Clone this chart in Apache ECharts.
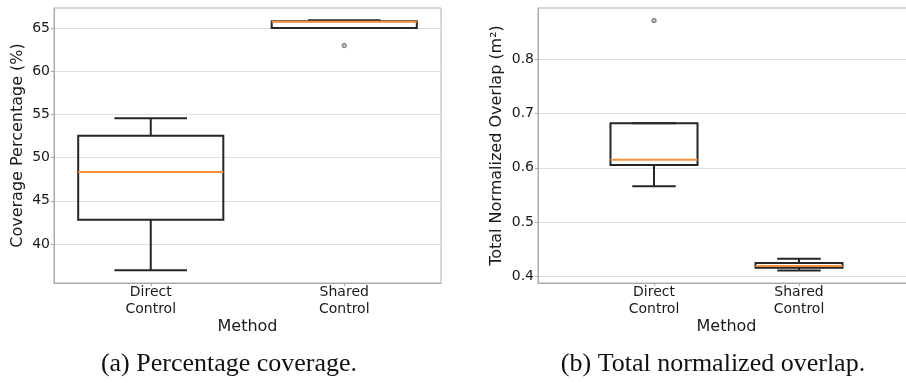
<!DOCTYPE html>
<html>
<head>
<meta charset="utf-8">
<script src="https://cdn.jsdelivr.net/npm/echarts@6/dist/echarts.min.js"></script>
<style>
  html, body { margin: 0; padding: 0; background: #ffffff; }
  #chart { width: 906px; height: 383px; }
</style>
</head>
<body>
<div id="chart"></div>
<script>
// Method names on the x axis (positions 1 and 2)
const categories = ['Direct\nControl', 'Shared\nControl'];

// Five-number summaries: [lower whisker, Q1, median, Q3, upper whisker]
const coverageDirect = [36.96, 42.8, 48.35, 52.54, 54.55];
const coverageShared = [64.98, 64.98, 65.72, 65.76, 65.89];
const coverageSharedOutliers = [62.96];

const overlapDirect = [0.566, 0.605, 0.615, 0.682, 0.682];
const overlapShared = [0.411, 0.416, 0.4195, 0.425, 0.4325];
const overlapDirectOutliers = [0.871];

// Tick labels
const coverageTicks = [40, 45, 50, 55, 60, 65];
const overlapTicks = [0.4, 0.5, 0.6, 0.7, 0.8];

const FONT = 'DejaVu Sans';
const BOX_COLOR = '#262626';
const MEDIAN_COLOR = '#f5923a';
const OUTLIER_COLOR = '#777777';

function boxRows(summaries) {
  return summaries.map((s, i) => [i + 1].concat(s));
}
function outlierRows(pos, values) {
  return values.map(v => [pos, v]);
}

// Draws an unfilled box with whiskers, caps and an orange median line.
function makeBoxRenderer(boxWidth) {
  return function (params, api) {
    const x = api.value(0);
    const low = api.coord([x, api.value(1)]);
    const q1 = api.coord([x, api.value(2)]);
    const med = api.coord([x, api.value(3)]);
    const q3 = api.coord([x, api.value(4)]);
    const high = api.coord([x, api.value(5)]);
    const half = api.size([boxWidth, 0])[0] / 2;
    const cap = half / 2;
    const cx = low[0];
    const line = (x1, y1, x2, y2, color) => ({
      type: 'line',
      shape: { x1, y1, x2, y2 },
      style: { stroke: color, lineWidth: 2, fill: null }
    });
    return {
      type: 'group',
      children: [
        line(cx, q3[1], cx, high[1], BOX_COLOR),
        line(cx, q1[1], cx, low[1], BOX_COLOR),
        line(cx - cap, high[1], cx + cap, high[1], BOX_COLOR),
        line(cx - cap, low[1], cx + cap, low[1], BOX_COLOR),
        {
          type: 'rect',
          shape: { x: cx - half, y: q3[1], width: half * 2, height: q1[1] - q3[1] },
          style: { stroke: BOX_COLOR, lineWidth: 2, fill: null }
        },
        line(cx - half, med[1], cx + half, med[1], MEDIAN_COLOR)
      ]
    };
  };
}

function xAxisFor(gridIndex, min, max) {
  return {
    type: 'value',
    gridIndex,
    min, max,
    name: 'Method',
    nameLocation: 'middle',
    nameGap: 36,
    nameMoveOverlap: false,
    nameTextStyle: { fontFamily: FONT, fontSize: 16, color: '#1a1a1a' },
    axisLine: { show: true, lineStyle: { color: '#a8a8a8', width: 1 } },
    axisTick: { show: true, length: 3, lineStyle: { color: '#a8a8a8' }, customValues: [1, 2] },
    axisLabel: {
      customValues: [1, 2],
      margin: 1,
      fontFamily: FONT, fontSize: 14, lineHeight: 17, color: '#1a1a1a',
      formatter: v => categories[Math.round(v) - 1]
    },
    splitLine: { show: false }
  };
}

function yAxisFor(gridIndex, min, max, ticks, name, nameGap, decimals) {
  return {
    type: 'value',
    gridIndex,
    min, max,
    name,
    nameLocation: 'middle',
    nameGap,
    nameTextStyle: { fontFamily: FONT, fontSize: 16, color: '#1a1a1a' },
    axisLine: { show: true, lineStyle: { color: '#a8a8a8', width: 1 } },
    axisTick: { show: true, length: 3, lineStyle: { color: '#a8a8a8' }, customValues: ticks },
    axisLabel: {
      customValues: ticks,
      margin: 4,
      fontFamily: FONT, fontSize: 14, color: '#1a1a1a',
      formatter: v => v.toFixed(decimals)
    },
    splitLine: { show: true, lineStyle: { color: '#e0e0e0', width: 1 } }
  };
}

function outlierSeries(xIdx, yIdx, rows) {
  return {
    type: 'scatter',
    xAxisIndex: xIdx, yAxisIndex: yIdx,
    symbol: 'emptyCircle', symbolSize: 3.5,
    itemStyle: { color: OUTLIER_COLOR, borderColor: OUTLIER_COLOR, borderWidth: 1 },
    data: rows,
    z: 4
  };
}

const chart = echarts.init(document.getElementById('chart'), null, { renderer: 'canvas' });

chart.setOption({
  backgroundColor: '#ffffff',
  animation: false,
  grid: [
    { left: 54, top: 8, width: 387, height: 275, outerBoundsMode: 'none', containLabel: false,
      show: true, borderColor: '#b0b0b0', borderWidth: 1 },
    { left: 538, top: 8, width: 377, height: 275, outerBoundsMode: 'none', containLabel: false,
      show: true, borderColor: '#b0b0b0', borderWidth: 1 }
  ],
  xAxis: [
    xAxisFor(0, 0.5, 2.5),
    xAxisFor(1, 0.2, 2.8)
  ],
  yAxis: [
    yAxisFor(0, 35.5, 67.3, coverageTicks, 'Coverage Percentage (%)', 28, 0),
    yAxisFor(1, 0.388, 0.894, overlapTicks, 'Total Normalized Overlap (m²)', 33, 1)
  ],
  series: [
    {
      type: 'custom',
      xAxisIndex: 0, yAxisIndex: 0,
      renderItem: makeBoxRenderer(0.75),
      data: boxRows([coverageDirect, coverageShared]),
      z: 3
    },
    outlierSeries(0, 0, outlierRows(2, coverageSharedOutliers)),
    {
      type: 'custom',
      xAxisIndex: 1, yAxisIndex: 1,
      renderItem: makeBoxRenderer(0.6),
      data: boxRows([overlapDirect, overlapShared]),
      z: 3
    },
    outlierSeries(1, 1, outlierRows(1, overlapDirectOutliers))
  ],
  graphic: [
    {
      type: 'text', x: 229, y: 364,
      style: {
        text: '(a) Percentage coverage.',
        font: '26px "Liberation Serif"', fill: '#111111',
        textAlign: 'center', textVerticalAlign: 'middle'
      }
    },
    {
      type: 'text', x: 713, y: 364,
      style: {
        text: '(b) Total normalized overlap.',
        font: '26px "Liberation Serif"', fill: '#111111',
        textAlign: 'center', textVerticalAlign: 'middle'
      }
    }
  ]
});
</script>
</body>
</html>
